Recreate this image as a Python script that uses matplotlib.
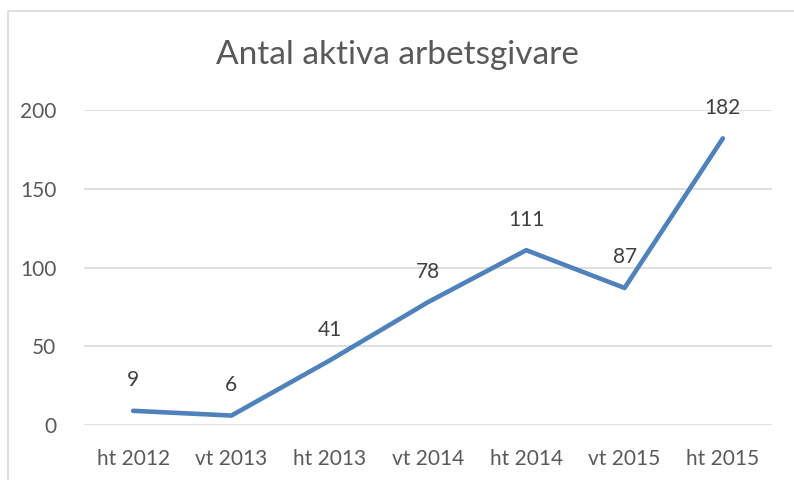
import matplotlib
matplotlib.use("Agg")
import matplotlib.pyplot as plt
from matplotlib.patches import Rectangle

# Data
perioder = ["ht 2012", "vt 2013", "ht 2013", "vt 2014", "ht 2014", "vt 2015", "ht 2015"]
antal = [9, 6, 41, 78, 111, 87, 182]
y_ticks = [0, 50, 100, 150, 200]

plt.rcParams["font.family"] = ["Lato", "DejaVu Sans"]

W, H = 794, 480
fig = plt.figure(figsize=(W / 100, H / 100), dpi=100)
ax = fig.add_axes([84 / W, 1 - 425 / H, (772 - 84) / W, (425 - 110) / H])

# chart border (Excel style)
fig.patches.append(Rectangle((8 / W, -0.1), 1.2, 1 - 11 / H + 0.1,
                             transform=fig.transFigure, fill=False,
                             edgecolor="#D9D9D9", linewidth=1.2))

x = list(range(len(perioder)))
ax.plot(x, antal, color="#4F81BD", linewidth=3.3, solid_capstyle="round",
        solid_joinstyle="round", zorder=3)

for xi, v in zip(x, antal):
    ax.annotate(str(v), (xi, v), xytext=(0, 22), textcoords="offset points",
                ha="center", va="center", fontsize=15, color="#404040")

ax.set_xlim(-0.5, len(perioder) - 0.5)
ax.set_ylim(0, 200)
ax.set_yticks(y_ticks)
ax.set_xticks(x)
ax.set_xticklabels(perioder)
ax.yaxis.grid(True, color="#D9D9D9", linewidth=1.2)
ax.set_axisbelow(True)
for s in ax.spines.values():
    s.set_visible(False)
ax.tick_params(axis="both", length=0, labelsize=15, labelcolor="#595959")
ax.tick_params(axis="y", pad=20)
ax.tick_params(axis="x", pad=17)

fig.text(0.5, 1 - 55 / H, "Antal aktiva arbetsgivare", ha="center", va="center",
         fontsize=24, color="#595959")

fig.savefig("out.png", dpi=100)
